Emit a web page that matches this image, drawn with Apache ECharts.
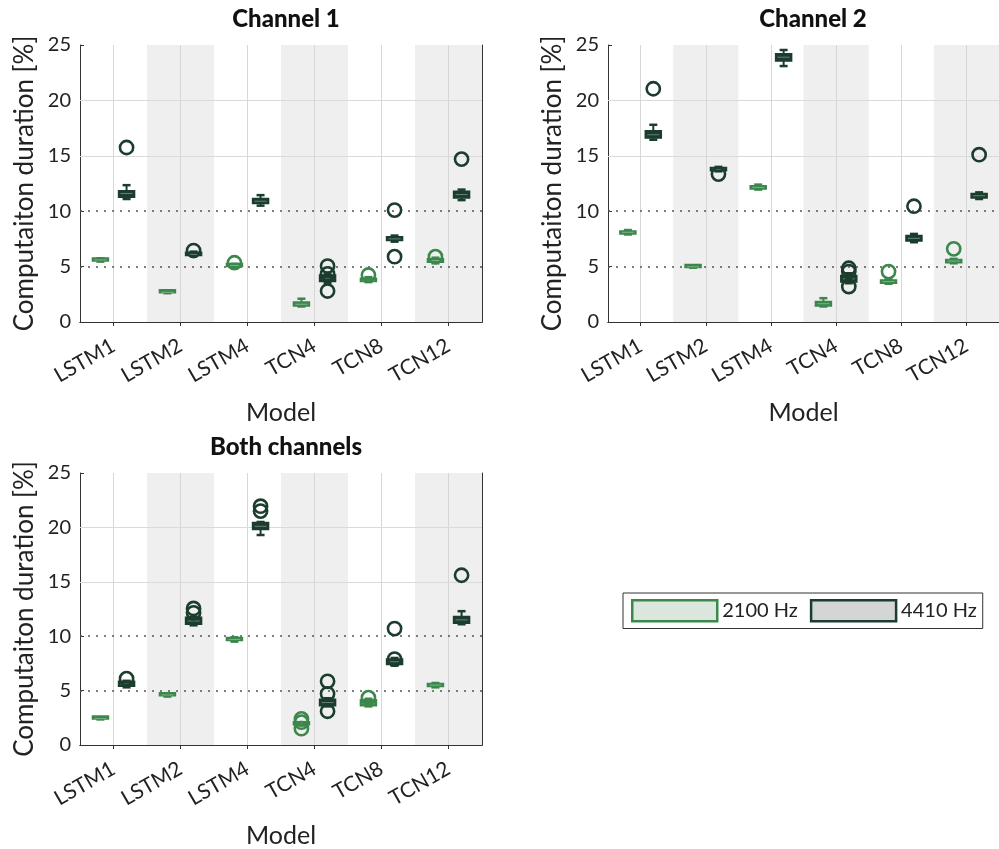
<!DOCTYPE html>
<html><head><meta charset="utf-8">
<script src="https://cdn.jsdelivr.net/npm/echarts@6/dist/echarts.min.js"></script>
<style>html,body{margin:0;padding:0;background:#fff}#c{width:999px;height:849px}</style>
</head><body><div id="c"></div>
<script>
const models = ['LSTM1','LSTM2','LSTM4','TCN4','TCN8','TCN12'];
const yTicks = [0,5,10,15,20,25];
const titles = ['Channel 1','Channel 2','Both channels'];
const freqs = ['2100 Hz','4410 Hz'];
// box stats: [min, q1, median, q3, max] per model
const ch1_2100 = [[5.45,5.5,5.6,5.7,5.75],[2.6,2.63,2.68,2.73,2.76],[4.95,5.0,5.1,5.2,5.25],[1.4,1.45,1.6,1.8,2.1],[3.6,3.65,3.75,3.95,4.05],[5.3,5.4,5.55,5.7,5.8]];
const ch1_4410 = [[11.1,11.25,11.6,11.85,12.35],[5.95,6.0,6.1,6.3,6.35],[10.5,10.7,10.9,11.15,11.45],[3.55,3.65,3.9,4.25,4.3],[7.25,7.35,7.5,7.7,7.8],[11.0,11.2,11.5,11.8,11.95]];
const ch2_2100 = [[7.9,7.95,8.1,8.2,8.3],[4.9,4.93,4.98,5.03,5.06],[11.95,12.0,12.15,12.3,12.4],[1.4,1.45,1.65,1.85,2.15],[3.45,3.5,3.65,3.8,3.85],[5.3,5.35,5.5,5.65,5.7]];
const ch2_4410 = [[16.45,16.6,16.9,17.25,17.8],[13.6,13.65,13.8,13.95,14.0],[23.1,23.55,23.9,24.2,24.55],[3.5,3.6,3.9,4.2,4.4],[7.2,7.3,7.55,7.8,7.95],[11.1,11.2,11.4,11.6,11.7]];
const both_2100 = [[2.35,2.38,2.42,2.46,2.5],[4.45,4.52,4.6,4.68,4.75],[9.5,9.6,9.7,9.85,9.9],[1.8,1.85,1.95,2.05,2.1],[3.55,3.6,3.8,4.15,4.25],[5.3,5.38,5.5,5.62,5.7]];
const both_4410 = [[5.3,5.4,5.6,5.85,5.9],[11.0,11.1,11.4,11.75,11.8],[19.3,19.8,20.1,20.45,20.5],[3.55,3.6,3.9,4.2,4.3],[7.3,7.4,7.65,7.9,8.0],[11.1,11.2,11.5,11.8,12.3]];
// outliers: [modelIndex, value]
const ch1_2100_out = [[2,5.35],[4,4.24],[5,5.9]];
const ch1_4410_out = [[0,15.75],[1,6.45],[3,5.05],[3,4.35],[3,2.8],[4,10.1],[4,5.9],[5,14.7]];
const ch2_2100_out = [[4,4.55],[5,6.6]];
const ch2_4410_out = [[0,21.05],[1,13.35],[3,4.85],[3,4.55],[3,3.2],[4,10.45],[5,15.1]];
const both_2100_out = [[3,2.4],[3,2.1],[3,1.5],[4,4.35]];
const both_4410_out = [[0,6.1],[1,12.55],[1,12.15],[2,21.95],[2,21.5],[3,5.85],[3,4.7],[3,3.1],[4,10.7],[4,7.9],[5,15.6]];
const shaded = [null,25,null,25,null,25];

const boxes = [[ch1_2100,ch1_4410],[ch2_2100,ch2_4410],[both_2100,both_4410]];
const outs = [[ch1_2100_out,ch1_4410_out],[ch2_2100_out,ch2_4410_out],[both_2100_out,both_4410_out]];

const GREEN = '#3b874c', DARK = '#1b3d2e';
const colors = [GREEN, DARK];
const offs = [-0.195, 0.195];
const FONT = 'Lato';

const grids = [
  {left:80, top:45, width:402, height:277},
  {left:608, top:45, width:400, height:277},
  {left:80, top:473, width:402, height:276}
];

function boxRender(off, color){
  return function(params, api){
    const cat = api.value(0);
    const bw = api.size([1,0])[0];
    const x = api.coord([cat,0])[0] + bw*off;
    const y = [1,2,3,4,5].map(i => api.coord([cat, api.value(i)])[1]);
    const hw = 8, cw = 4;
    const ls = {stroke: color, lineWidth: 2};
    return {type:'group', children:[
      {type:'line', shape:{x1:x,y1:y[0],x2:x,y2:y[1]}, style:ls},
      {type:'line', shape:{x1:x,y1:y[3],x2:x,y2:y[4]}, style:ls},
      {type:'line', shape:{x1:x-cw,y1:y[0],x2:x+cw,y2:y[0]}, style:{stroke:color,lineWidth:2.5}},
      {type:'line', shape:{x1:x-cw,y1:y[4],x2:x+cw,y2:y[4]}, style:{stroke:color,lineWidth:2.5}},
      {type:'rect', shape:{x:x-hw,y:Math.min(y[3],y[1]-3),width:2*hw,height:Math.max(y[1]-y[3],3)}, style:{fill:color, stroke:color, lineWidth:1.5}},
      {type:'line', shape:{x1:x-hw+2,y1:y[2],x2:x+hw-2,y2:y[2]}, style:{stroke:'rgba(255,255,255,0.35)', lineWidth:1}}
    ]};
  };
}
function outRender(off, color){
  return function(params, api){
    const cat = api.value(0);
    const bw = api.size([1,0])[0];
    const p = api.coord([cat, api.value(1)]);
    return {type:'circle', shape:{cx:p[0]+bw*off, cy:p[1], r:6.6}, style:{fill:'none', stroke:color, lineWidth:2.6}};
  };
}

const xAxis = [], yAxis = [], series = [], title = [];
grids.forEach((g,k) => {
  const cx = g.left + g.width/2;
  title.push({text:titles[k], left:cx, top:g.top-43, textAlign:'center',
    textStyle:{fontFamily:FONT, fontWeight:900, fontSize:24, color:'#111'}});
  xAxis.push({type:'category', gridIndex:k, data:models, position:'bottom',
    axisLine:{show:true, lineStyle:{color:'#333', width:1}},
    axisTick:{show:true, inside:true, alignWithLabel:true, length:4, lineStyle:{color:'#333'}},
    axisLabel:{rotate:30, fontSize:21, color:'#222', fontFamily:FONT, margin:22, interval:0},
    splitLine:{show:false},
    name:'Model', nameLocation:'middle', nameGap:78,
    nameTextStyle:{fontSize:25, color:'#222', fontFamily:FONT}});
  xAxis.push({type:'category', gridIndex:k, data:models, position:'top',
    axisLine:{show:true, lineStyle:{color:'#333', width:1}},
    axisTick:{show:true, inside:true, alignWithLabel:true, length:4, lineStyle:{color:'#333'}},
    axisLabel:{show:false}, splitLine:{show:false}});
  yAxis.push({type:'value', gridIndex:k, min:0, max:25, interval:5, position:'left',
    axisLine:{show:true, lineStyle:{color:'#333', width:1}},
    axisTick:{show:true, inside:true, length:4, lineStyle:{color:'#333'}},
    axisLabel:{fontSize:20, color:'#222', fontFamily:FONT, margin:9},
    splitLine:{show:false},
    name:'Computaiton duration [%]', nameLocation:'middle', nameGap:42, nameRotate:90,
    nameTextStyle:{fontSize:26, color:'#222', fontFamily:FONT}});
  yAxis.push({type:'value', gridIndex:k, min:0, max:25, interval:5, position:'right',
    axisLine:{show:true, lineStyle:{color:'#333', width:1}},
    axisTick:{show:true, inside:true, length:4, lineStyle:{color:'#333'}},
    axisLabel:{show:false}, splitLine:{show:false}});
  const xi = 2*k, yi = 2*k;
  series.push({type:'bar', xAxisIndex:xi, yAxisIndex:yi, data:shaded, barWidth:'100%', barCategoryGap:'0%',
    itemStyle:{color:'#efefef'}, silent:true, z:1, animation:false,
    markLine:{silent:true, symbol:'none', animation:false, label:{show:false},
      data:[
        ...models.map(m => ({xAxis:m, lineStyle:{color:'#d6d6d6', type:'solid', width:1}})),
        ...[15,20].map(v => ({yAxis:v, lineStyle:{color:'#dadada', type:'solid', width:1.2}})),
        ...[5,10].map(v => ({yAxis:v, lineStyle:{color:'#555', type:[2,6], width:1.6}}))
      ]}});
  [0,1].forEach(f => {
    series.push({type:'custom', name:freqs[f], xAxisIndex:xi, yAxisIndex:yi, z:5,
      itemStyle:{color:colors[f]}, animation:false,
      renderItem: boxRender(offs[f], colors[f]),
      encode:{x:0, y:[1,2,3,4,5]},
      data: boxes[k][f].map((s,i) => [i, ...s])});
    series.push({type:'custom', name:freqs[f], xAxisIndex:xi, yAxisIndex:yi, z:6,
      itemStyle:{color:colors[f]}, animation:false,
      renderItem: outRender(offs[f], colors[f]),
      encode:{x:0, y:1},
      data: outs[k][f]});
  });
});

const chart = echarts.init(document.getElementById('c'), null, {renderer:'canvas'});
chart.setOption({
  animation:false,
  textStyle:{fontFamily:FONT},
  title, grid:grids, xAxis, yAxis, series,
  legend:{left:623, top:593, orient:'horizontal', icon:'rect', itemWidth:85, itemHeight:21, itemGap:12,
    padding:[6,6,6,8], borderColor:'#333', borderWidth:1, backgroundColor:'#fff',
    textStyle:{fontSize:20, color:'#222', fontFamily:FONT},
    data:[
      {name:'2100 Hz', itemStyle:{color:'#dbe7dd', borderColor:GREEN, borderWidth:2.5}},
      {name:'4410 Hz', itemStyle:{color:'#d3d6d5', borderColor:DARK, borderWidth:2.5}}
    ]}
});
</script></body></html>
